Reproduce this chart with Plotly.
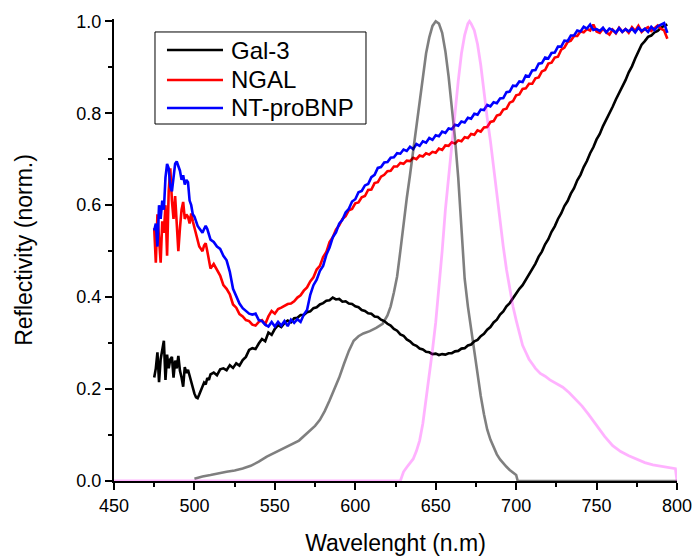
import plotly.graph_objects as go

# Wavelength grid for the reflectivity spectra (nm): 1 nm below 511, 2 nm above
wavelength = list(range(475, 511)) + list(range(512, 795, 2))

gal3 = [
    # 475-484
    0.225, 0.245, 0.280, 0.215, 0.265, 0.290, 0.305, 0.220, 0.275, 0.245,
    # 485-494
    0.265, 0.270, 0.225, 0.262, 0.245, 0.272, 0.240, 0.225, 0.205, 0.248,
    # 495-504
    0.235, 0.242, 0.228, 0.215, 0.205, 0.190, 0.182, 0.180, 0.188, 0.198,
    # 505-510
    0.206, 0.214, 0.210, 0.224, 0.220, 0.232,
    # 512-530
    0.236, 0.230, 0.243, 0.245, 0.241, 0.252, 0.246, 0.256, 0.251, 0.263,
    # 532-550
    0.270, 0.285, 0.289, 0.287, 0.299, 0.309, 0.304, 0.323, 0.318, 0.331,
    # 552-570
    0.339, 0.335, 0.344, 0.349, 0.345, 0.354, 0.355, 0.361, 0.361, 0.367,
    # 572-590
    0.369, 0.376, 0.378, 0.384, 0.387, 0.392, 0.393, 0.399, 0.395, 0.396,
    # 592-610
    0.390, 0.391, 0.386, 0.385, 0.380, 0.378, 0.372, 0.370, 0.365, 0.364,
    # 612-630
    0.358, 0.357, 0.351, 0.348, 0.342, 0.338, 0.331, 0.327, 0.319, 0.316,
    # 632-650
    0.308, 0.304, 0.297, 0.294, 0.288, 0.286, 0.281, 0.280, 0.276, 0.277,
    # 652-670
    0.274, 0.276, 0.275, 0.278, 0.278, 0.282, 0.283, 0.288, 0.289, 0.295,
    # 672-690
    0.297, 0.304, 0.307, 0.315, 0.320, 0.329, 0.335, 0.345, 0.351, 0.362,
    # 692-710
    0.369, 0.380, 0.387, 0.398, 0.406, 0.418, 0.426, 0.438, 0.448, 0.462,
    # 712-730
    0.473, 0.488, 0.499, 0.515, 0.526, 0.542, 0.554, 0.570, 0.582, 0.598,
    # 732-750
    0.609, 0.625, 0.637, 0.654, 0.666, 0.683, 0.696, 0.713, 0.726, 0.743,
    # 752-770
    0.755, 0.772, 0.785, 0.801, 0.814, 0.830, 0.843, 0.859, 0.872, 0.889,
    # 772-790
    0.902, 0.919, 0.934, 0.949, 0.957, 0.966, 0.969, 0.976, 0.979, 0.986,
    # 792-794
    0.990, 0.993,
]

ngal = [
    # 475-484
    0.550, 0.475, 0.580, 0.520, 0.475, 0.565, 0.540, 0.600, 0.490, 0.630,
    # 485-494
    0.680, 0.610, 0.570, 0.620, 0.560, 0.500, 0.550, 0.590, 0.607, 0.570,
    # 495-504
    0.580, 0.575, 0.560, 0.582, 0.565, 0.550, 0.535, 0.520, 0.510, 0.505,
    # 505-510
    0.500, 0.512, 0.517, 0.500, 0.480, 0.462,
    # 512-530
    0.472, 0.460, 0.447, 0.426, 0.418, 0.406, 0.384, 0.377, 0.363, 0.358,
    # 532-550
    0.350, 0.348, 0.340, 0.338, 0.346, 0.350, 0.341, 0.358, 0.370, 0.364,
    # 552-570
    0.374, 0.377, 0.382, 0.385, 0.386, 0.391, 0.399, 0.404, 0.414, 0.421,
    # 572-590
    0.434, 0.443, 0.460, 0.468, 0.487, 0.498, 0.520, 0.530, 0.547, 0.556,
    # 592-610
    0.570, 0.576, 0.589, 0.592, 0.604, 0.606, 0.617, 0.620, 0.633, 0.634,
    # 612-630
    0.648, 0.650, 0.662, 0.666, 0.674, 0.675, 0.684, 0.684, 0.692, 0.690,
    # 632-650
    0.697, 0.696, 0.703, 0.700, 0.708, 0.706, 0.713, 0.710, 0.716, 0.714,
    # 652-670
    0.723, 0.720, 0.730, 0.729, 0.737, 0.734, 0.741, 0.739, 0.748, 0.746,
    # 672-690
    0.755, 0.753, 0.763, 0.760, 0.769, 0.770, 0.781, 0.783, 0.795, 0.797,
    # 692-710
    0.808, 0.810, 0.823, 0.826, 0.839, 0.841, 0.853, 0.854, 0.864, 0.864,
    # 712-730
    0.876, 0.878, 0.891, 0.894, 0.908, 0.910, 0.921, 0.923, 0.938, 0.943,
    # 732-750
    0.955, 0.958, 0.968, 0.968, 0.978, 0.976, 0.983, 0.980, 0.993, 0.978,
    # 752-770
    0.975, 0.984, 0.976, 0.971, 0.982, 0.974, 0.986, 0.977, 0.983, 0.975,
    # 772-790
    0.987, 0.979, 0.990, 0.977, 0.983, 0.987, 0.979, 0.985, 0.991, 0.984,
    # 792-794
    0.980, 0.962,
]

nt_probnp = [
    # 475-484
    0.545, 0.560, 0.510, 0.600, 0.570, 0.610, 0.590, 0.660, 0.690, 0.680,
    # 485-494
    0.640, 0.630, 0.660, 0.690, 0.695, 0.685, 0.675, 0.655, 0.665, 0.645,
    # 495-504
    0.655, 0.650, 0.610, 0.600, 0.580, 0.575, 0.565, 0.555, 0.550, 0.545,
    # 505-510
    0.540, 0.548, 0.555, 0.548, 0.535, 0.525,
    # 512-530
    0.520, 0.510, 0.505, 0.490, 0.480, 0.455, 0.418, 0.400, 0.386, 0.376,
    # 532-550
    0.370, 0.364, 0.362, 0.364, 0.350, 0.348, 0.340, 0.336, 0.346, 0.336,
    # 552-570
    0.346, 0.338, 0.348, 0.337, 0.351, 0.344, 0.352, 0.346, 0.362, 0.372,
    # 572-590
    0.405, 0.426, 0.438, 0.457, 0.468, 0.492, 0.508, 0.530, 0.541, 0.560,
    # 592-610
    0.568, 0.584, 0.592, 0.608, 0.613, 0.628, 0.631, 0.643, 0.646, 0.661,
    # 612-630
    0.666, 0.681, 0.683, 0.693, 0.694, 0.703, 0.704, 0.713, 0.712, 0.721,
    # 632-650
    0.718, 0.727, 0.722, 0.733, 0.729, 0.739, 0.736, 0.746, 0.742, 0.752,
    # 652-670
    0.750, 0.760, 0.757, 0.767, 0.765, 0.775, 0.773, 0.782, 0.780, 0.790,
    # 672-690
    0.788, 0.799, 0.797, 0.808, 0.807, 0.818, 0.815, 0.824, 0.822, 0.832,
    # 692-710
    0.833, 0.846, 0.847, 0.860, 0.859, 0.869, 0.868, 0.882, 0.880, 0.893,
    # 712-730
    0.894, 0.908, 0.909, 0.921, 0.919, 0.931, 0.932, 0.945, 0.945, 0.958,
    # 732-750
    0.957, 0.969, 0.969, 0.980, 0.978, 0.988, 0.984, 0.993, 0.981, 0.983,
    # 752-770
    0.979, 0.986, 0.976, 0.984, 0.981, 0.975, 0.985, 0.977, 0.983, 0.978,
    # 772-790
    0.984, 0.976, 0.986, 0.979, 0.984, 0.977, 0.988, 0.981, 0.989, 0.993,
    # 792-794
    0.996, 0.975,
]

# Illumination spectrum centred at 650 nm
source650_nm = [500, 505, 510, 515, 520, 525, 530, 535, 540, 545, 550, 555,
                560, 565, 570, 575, 578, 581, 584, 587, 590, 593, 596, 599,
                602, 605, 609, 613, 617, 620, 622, 624, 626, 628, 630, 632,
                634, 636, 638, 640, 642, 644, 646, 648, 650, 652, 654, 656,
                658, 660, 662, 664, 666, 668, 670, 672, 674, 676, 678, 680,
                682, 684, 686, 688, 690, 692, 694, 696, 698, 700, 701, 750, 800]
source650 = [0.005, 0.010, 0.013, 0.017, 0.020, 0.023, 0.027, 0.033, 0.042, 0.053,
             0.062, 0.071, 0.079, 0.088, 0.104, 0.120, 0.133, 0.152, 0.175, 0.200,
             0.225, 0.255, 0.283, 0.305, 0.315, 0.321, 0.326, 0.333, 0.342, 0.360,
             0.380, 0.410, 0.445, 0.500, 0.560, 0.615, 0.665, 0.720, 0.775, 0.828,
             0.878, 0.930, 0.965, 0.990, 1.000, 0.995, 0.975, 0.935, 0.880, 0.815,
             0.745, 0.660, 0.540, 0.440, 0.380, 0.330, 0.280, 0.230, 0.185, 0.145,
             0.112, 0.090, 0.073, 0.058, 0.047, 0.038, 0.031, 0.024, 0.018, 0.013,
             0.000, 0.000, 0.000]

# Illumination spectrum centred at 670 nm
source670_nm = [450, 628, 629, 630, 632, 634, 636, 638, 640, 642, 644, 646, 648,
                650, 652, 654, 656, 658, 660, 662, 664, 666, 668, 670, 671, 672,
                674, 676, 678, 680, 682, 684, 686, 688, 690, 692, 694, 696, 698,
                700, 702, 704, 706, 708, 710, 712, 715, 718, 721, 725, 729, 733,
                737, 741, 745, 750, 755, 760, 765, 770, 775, 780, 785, 790, 795,
                799, 800]
source670 = [0.000, 0.000, 0.010, 0.020, 0.030, 0.038, 0.048, 0.065, 0.088, 0.125,
             0.175, 0.235, 0.285, 0.345, 0.420, 0.500, 0.590, 0.665, 0.730, 0.800,
             0.870, 0.930, 0.970, 0.995, 1.000, 0.995, 0.980, 0.950, 0.905, 0.845,
             0.790, 0.740, 0.680, 0.620, 0.560, 0.510, 0.460, 0.420, 0.380, 0.350,
             0.320, 0.295, 0.280, 0.265, 0.255, 0.245, 0.234, 0.228, 0.220, 0.212,
             0.204, 0.192, 0.178, 0.163, 0.145, 0.120, 0.097, 0.077, 0.064, 0.055,
             0.047, 0.040, 0.035, 0.032, 0.030, 0.027, 0.000]

x_ticks = [450, 500, 550, 600, 650, 700, 750, 800]
y_ticks = [0.0, 0.2, 0.4, 0.6, 0.8, 1.0]

series_names = ["Gal-3", "NGAL", "NT-proBNP"]
series_colors = ["#000000", "#FF0000", "#0000FF"]

assert len(wavelength) == len(gal3) == len(ngal) == len(nt_probnp)

FONT = "Arial, Liberation Sans, sans-serif"

fig = go.Figure()
for name, values, color in zip(series_names, [gal3, ngal, nt_probnp], series_colors):
    fig.add_trace(go.Scatter(x=wavelength, y=values, mode="lines", name=name,
                             showlegend=False, line=dict(color=color, width=2.6)))
fig.add_trace(go.Scatter(x=source650_nm, y=source650, mode="lines", showlegend=False,
                         line=dict(color="rgba(0,0,0,0.5)", width=2.6)))
fig.add_trace(go.Scatter(x=source670_nm, y=source670, mode="lines", showlegend=False,
                         line=dict(color="rgba(255,0,255,0.3)", width=2.8)))

axis_common = dict(
    showline=True, linecolor="black", linewidth=2,
    ticks="outside", ticklen=7, tickwidth=2, tickcolor="black",
    showgrid=False, zeroline=False, mirror=False, automargin=False,
    tickfont=dict(family=FONT, size=18, color="black"),
)

fig.update_xaxes(
    range=[450, 800], tickvals=x_ticks,
    minor=dict(ticks="outside", ticklen=4, tickwidth=2, tickcolor="black", dtick=25),
    title=dict(text="Wavelenght (n.m)", font=dict(family=FONT, size=23, color="black"),
               standoff=20),
    **axis_common,
)
fig.update_yaxes(
    range=[0, 1.005], tickvals=y_ticks, tickformat=".1f",
    minor=dict(ticks="outside", ticklen=4, tickwidth=2, tickcolor="black", dtick=0.1),
    title=dict(text="Reflectivity (norm.)", font=dict(family=FONT, size=23, color="black"),
               standoff=37),
    **axis_common,
)

# Boxed key in the upper-left corner of the plot area (paper coordinates)
box_x0, box_x1, box_y0, box_y1 = 0.0728, 0.4476, 0.7727, 0.9719
key_rows = [0.9329, 0.8680, 0.8074]
key_line_x = (0.0941, 0.1936)
key_text_x = 0.2045

shapes = [dict(type="rect", xref="paper", yref="paper",
               x0=box_x0, x1=box_x1, y0=box_y0, y1=box_y1,
               line=dict(color="black", width=1), fillcolor="white", layer="above")]
annotations = []
for name, color, yk in zip(series_names, series_colors, key_rows):
    shapes.append(dict(type="line", xref="paper", yref="paper",
                       x0=key_line_x[0], x1=key_line_x[1], y0=yk, y1=yk,
                       line=dict(color=color, width=2.6), layer="above"))
    annotations.append(dict(text=name, xref="paper", yref="paper", x=key_text_x, y=yk,
                            xanchor="left", yanchor="middle", showarrow=False,
                            font=dict(family=FONT, size=24, color="black")))

fig.update_layout(
    width=697, height=557,
    margin=dict(l=114, r=20, t=19, b=76),
    paper_bgcolor="white", plot_bgcolor="white",
    font=dict(family=FONT, color="black"),
    showlegend=False,
    shapes=shapes,
    annotations=annotations,
)

fig.write_html("out.html")
